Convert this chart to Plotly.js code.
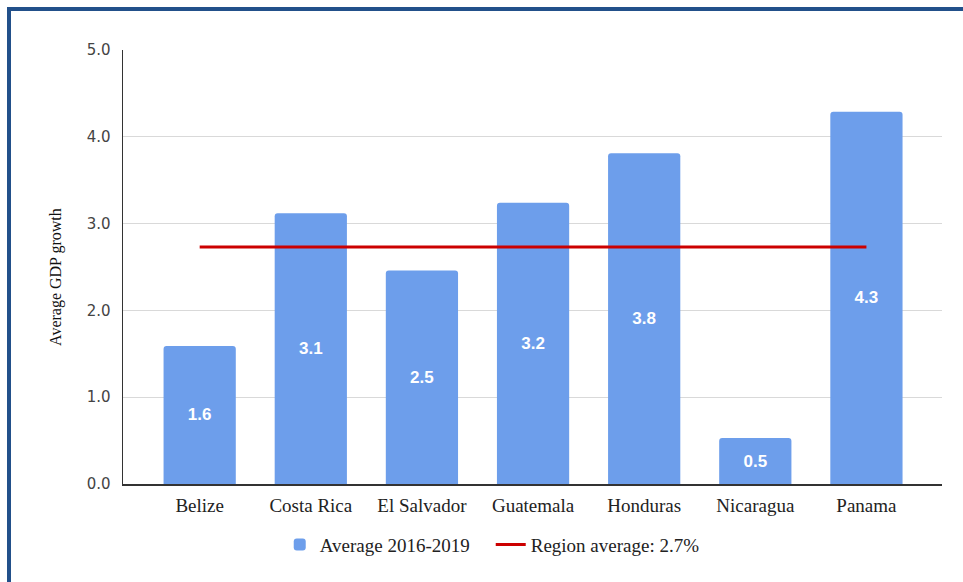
<!DOCTYPE html>
<html>
<head>
<meta charset="utf-8">
<script src="https://cdn.plot.ly/plotly-3.0.1.min.js"></script>
<style>
  html, body { margin: 0; padding: 0; background: #ffffff; }
  #wrap { position: relative; width: 963px; height: 582px; overflow: hidden; }
  #chart { position: absolute; left: 0; top: 0; width: 963px; height: 582px; }
  #frame { position: absolute; left: 7px; top: 7px; width: 970px; height: 600px;
           border-top: 4px solid #22508a; border-left: 4px solid #22508a; pointer-events: none; }
</style>
</head>
<body>
<div id="wrap">
  <div id="chart"></div>
  <div id="frame"></div>
</div>
<script>
const countries = ["Belize", "Costa Rica", "El Salvador", "Guatemala", "Honduras", "Nicaragua", "Panama"];
const avgGrowth = [1.59, 3.12, 2.46, 3.24, 3.81, 0.53, 4.29];
const regionAverage = [2.73, 2.73, 2.73, 2.73, 2.73, 2.73, 2.73];
const yTicks = [0, 1, 2, 3, 4, 5];
const yTickLabels = ["0.0", "1.0", "2.0", "3.0", "4.0", "5.0"];
const seriesNames = ["Average 2016-2019", "Region average: 2.7%"];
const yAxisTitle = "Average GDP growth";

const serif = "Liberation Serif, Times New Roman, serif";

const traces = [
  {
    type: "bar",
    name: seriesNames[0],
    x: countries,
    y: avgGrowth,
    marker: { color: "#6d9eeb", cornerradius: 3 },
    texttemplate: "%{y:.1f}",
    textposition: "inside",
    insidetextanchor: "middle",
    constraintext: "none",
    textfont: { family: "Liberation Sans, Arial, sans-serif", size: 17, color: "#ffffff", weight: "bold" },
    hoverinfo: "none"
  },
  {
    type: "scatter",
    mode: "lines",
    name: seriesNames[1],
    x: countries,
    y: regionAverage,
    line: { color: "#cc0000", width: 3 },
    hoverinfo: "none"
  }
];

const layout = {
  width: 963,
  height: 582,
  margin: { l: 123, r: 21, t: 50, b: 98 },
  paper_bgcolor: "#ffffff",
  plot_bgcolor: "#ffffff",
  bargap: 0.35,
  showlegend: true,
  legend: {
    orientation: "h",
    x: 0.449, xanchor: "center",
    y: -0.14, yanchor: "middle",
    font: { family: serif, size: 19, color: "#222222" },
    itemwidth: 30,
    entrywidth: 166,
    entrywidthmode: "pixels"
  },
  xaxis: {
    range: [-0.69, 6.68],
    showgrid: false,
    showline: true,
    linecolor: "#333333",
    linewidth: 1.5,
    ticks: "",
    tickfont: { family: serif, size: 19, color: "#222222" },
    ticklabelstandoff: 4,
    zeroline: false
  },
  yaxis: {
    range: [0, 5],
    tickvals: yTicks,
    ticktext: yTickLabels,
    showgrid: true,
    gridcolor: "#d9d9d9",
    gridwidth: 1,
    showline: true,
    linecolor: "#333333",
    linewidth: 1.5,
    ticks: "",
    ticklabelstandoff: 8,
    tickfont: { family: "DejaVu Sans, Verdana, sans-serif", size: 15, color: "#444444" },
    zeroline: false
  },
  annotations: [
    {
      text: yAxisTitle,
      xref: "paper", yref: "paper",
      x: -0.0818, y: 0.477,
      xanchor: "center", yanchor: "middle",
      textangle: -90,
      showarrow: false,
      font: { family: serif, size: 16, color: "#111111" }
    }
  ]
};

Plotly.newPlot("chart", traces, layout, { staticPlot: true, displayModeBar: false });
</script>
</body>
</html>
